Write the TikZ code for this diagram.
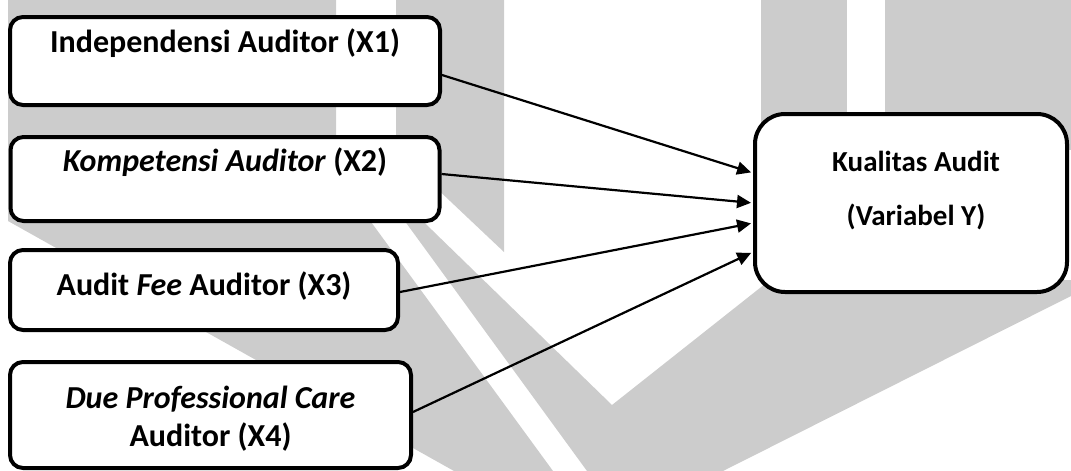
\documentclass[tikz,border=0pt]{standalone}
\usepackage{fontspec}
\setmainfont{Carlito}
\usepackage{tikz}
\usetikzlibrary{arrows.meta}
\tikzset{
	var node/.style={draw,fill=white,line width=2pt,rounded corners=6.5pt,inner sep=0pt},
	dep node/.style={draw,fill=white,line width=2pt,rounded corners=15pt,inner sep=0pt},
	var text/.style={font=\fontsize{16}{19}\selectfont\bfseries,align=center,inner sep=0pt},
	dep text/.style={font=\fontsize{14.5}{27}\selectfont\bfseries,align=center,inner sep=0pt},
	wmark/.style={fill=black!20}
}

\begin{document}
\begin{tikzpicture}[x=0.5pt,y=-0.5pt,>={Triangle[length=7pt,width=6.5pt]},
	    link/.style={->,line width=1.1pt,shorten >=1pt}]
	    \useasboundingbox (0,0) rectangle (1071,471);
	    \fill[wmark] (8,0) -- (336,0) -- (336,174) -- (553,471) -- (454,471) -- (8,221) -- cycle;
	    \fill[wmark] (396,0) -- (504,0) -- (504,252) -- (396,150) -- cycle;
	    \fill[wmark] (396,195) -- (612,405) -- (770,280) -- (1071,280) -- (1071,296) -- (723,471) -- (587,471) -- (396,209) -- cycle;
	    \fill[wmark] (761,0) rectangle (847,150);
	    \fill[wmark] (885,0) rectangle (1071,150);
	    \node [var node,minimum width=215pt,minimum height=44pt] (x1) at (225,61) {};
	    \node [var node,minimum width=214.5pt,minimum height=42pt] (x2) at (225,179) {};
	    \node [var node,minimum width=194pt,minimum height=40pt] (x3) at (204,290) {};
	    \node [var node,minimum width=200.5pt,minimum height=53pt] (x4) at (210.5,415) {};
	    \node [dep node,minimum width=156pt,minimum height=89pt] (y) at (911,203) {};
	    \node [var text,anchor=base] (t1) at ([yshift=-19pt]x1.north) {Independensi Auditor (X1)};
	    \node [var text,anchor=base] (t2) at ([yshift=-18pt]x2.north) {\textit{Kompetensi Auditor} (X2)};
	    \node [var text,anchor=base] (t3) at ([yshift=-23.5pt]x3.north) {Audit \textit{Fee} Auditor (X3)};
	    \node [var text,anchor=base] (t4) at ([yshift=-43pt]x4.north) {\textit{Due Professional Care}\\Auditor (X4)};
	    \node [dep text,anchor=base] (ty) at ([xshift=2.5pt,yshift=-56.5pt]y.north) {Kualitas Audit\\(Variabel Y)};
	    \draw [link] ([yshift=-7pt]x1.east) -- ([yshift=15pt]y.west);
	    \draw [link] ([yshift=2.5pt]x2.east) -- (y.west);
	    \draw [link] ([yshift=-1pt]x3.east) -- ([yshift=-10pt]y.west);
	    \draw [link] ([yshift=1.5pt]x4.east) -- ([yshift=-24.5pt]y.west);
	  \end{tikzpicture}
\end{document}
